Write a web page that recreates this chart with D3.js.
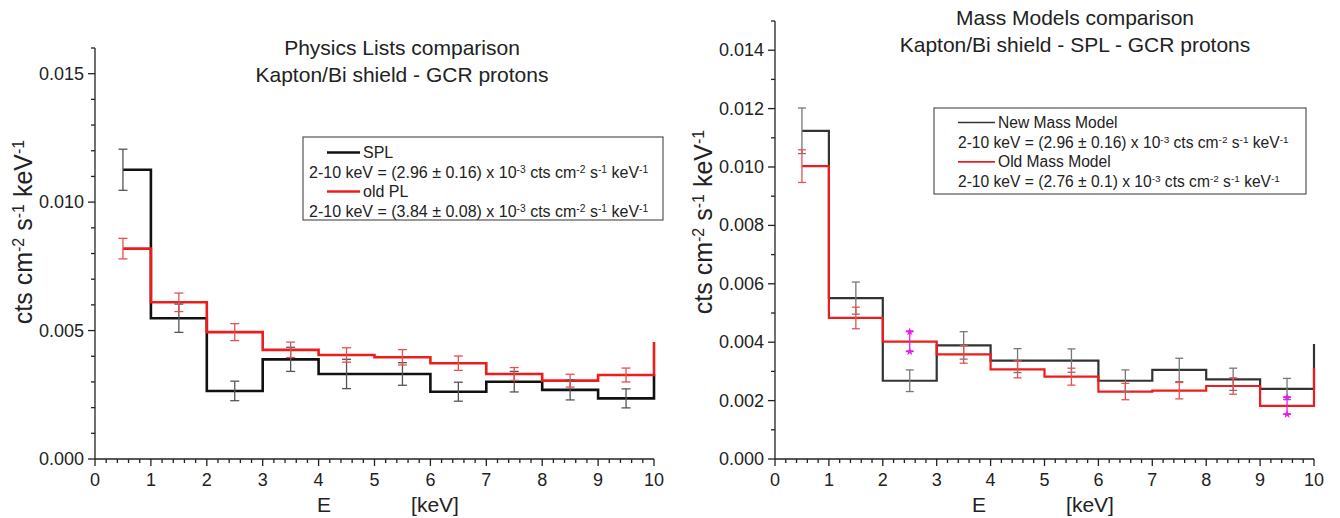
<!DOCTYPE html>
<html>
<head>
<meta charset="utf-8">
<script src="https://cdn.jsdelivr.net/npm/d3@7"></script>
<style>
  body { margin: 0; background: #fff; }
  svg { font-family: "Liberation Sans", Arial, sans-serif; }
</style>
</head>
<body>
<svg id="chart" width="1340" height="518"></svg>
<script>
// Energy bins (keV): centres and edges
const binCenters = [0.5, 1.5, 2.5, 3.5, 4.5, 5.5, 6.5, 7.5, 8.5, 9.5];
const binEdges = [0, 1, 2, 3, 4, 5, 6, 7, 8, 9, 10];
const xTicks = [0, 1, 2, 3, 4, 5, 6, 7, 8, 9, 10];

// Physics lists: SPL vs old PL (cts cm^-2 s^-1 keV^-1)
const splValues   = [0.01126, 0.00548, 0.00265, 0.00388, 0.00331, 0.00331, 0.00262, 0.00301, 0.00269, 0.00236];
const splErrors   = [0.00080, 0.00055, 0.00038, 0.00047, 0.00057, 0.00044, 0.00037, 0.00040, 0.00039, 0.00037];
const splEnd      = 0.00330;
const oldPlValues = [0.00819, 0.00610, 0.00494, 0.00425, 0.00405, 0.00396, 0.00373, 0.00331, 0.00305, 0.00327];
const oldPlErrors = [0.00040, 0.00036, 0.00033, 0.00030, 0.00028, 0.00030, 0.00028, 0.00025, 0.00025, 0.00027];
const oldPlEnd    = 0.00455;
const leftYTicks  = [0, 0.005, 0.010, 0.015];

// Mass models: new vs old (cts cm^-2 s^-1 keV^-1)
const newMmValues = [0.01124, 0.00551, 0.00268, 0.00389, 0.00337, 0.00337, 0.00268, 0.00305, 0.00273, 0.00240];
const newMmErrors = [0.00078, 0.00055, 0.00037, 0.00047, 0.00041, 0.00040, 0.00037, 0.00040, 0.00038, 0.00036];
const newMmEnd    = 0.00394;
const oldMmValues = [0.01003, 0.00483, 0.00402, 0.00358, 0.00307, 0.00282, 0.00231, 0.00234, 0.00250, 0.00182];
const oldMmErrors = [0.00056, 0.00037, 0.00034, 0.00030, 0.00029, 0.00029, 0.00028, 0.00028, 0.00028, 0.00029];
const oldMmEnd    = 0.00311;
const flaggedBins = [2.5, 9.5];
const rightYTicks = [0, 0.002, 0.004, 0.006, 0.008, 0.010, 0.012, 0.014];

const RED = "#ee1c1c";
const svg = d3.select("#chart");

function sup(t, s) {
  t.append("tspan").attr("baseline-shift", "super").attr("font-size", "64%").text(s);
}

// Formula line: "2-10 keV = (a ± b) x 10^-3 cts cm^-2 s^-1 keV^-1"
function fluxText(t, a, b) {
  t.append("tspan").text(`2-10 keV = (${a} ± ${b}) x 10`);
  sup(t, "-3");
  t.append("tspan").text(" cts cm");
  sup(t, "-2");
  t.append("tspan").text(" s");
  sup(t, "-1");
  t.append("tspan").text(" keV");
  sup(t, "-1");
}

function drawPanel(p) {
  const x = d3.scaleLinear().domain([0, 10]).range([p.left, p.right]);
  const y = d3.scaleLinear().domain([0, p.yMax]).range([p.bottom, p.top]);
  const g = svg.append("g");

  // step outline from bin values
  function stepPoints(values, endValue) {
    const pts = [[binCenters[0], values[0]]];
    values.forEach((v, i) => {
      pts.push([binEdges[i + 1], v]);
      if (i < values.length - 1) pts.push([binEdges[i + 1], values[i + 1]]);
    });
    pts.push([binEdges[binEdges.length - 1], endValue]);
    return pts;
  }
  const line = d3.line().x(d => x(d[0])).y(d => y(d[1]));

  function errorBars(values, errors, color, flagged) {
    const eg = g.append("g");
    values.forEach((v, i) => {
      const cx = x(binCenters[i]);
      const isFlag = flagged && flagged.includes(binCenters[i]);
      const col = isFlag ? "#e61ee6" : color;
      const y1 = y(v + errors[i]), y2 = y(v - errors[i]);
      eg.append("line").attr("x1", cx).attr("x2", cx).attr("y1", y1).attr("y2", y2)
        .attr("stroke", col).attr("stroke-width", 1.3);
      [y1, y2].forEach(yy => {
        eg.append("line").attr("x1", cx - p.cap).attr("x2", cx + p.cap).attr("y1", yy).attr("y2", yy)
          .attr("stroke", col).attr("stroke-width", 1.3);
        if (isFlag) {
          eg.append("path").attr("transform", `translate(${cx},${yy})`)
            .attr("d", d3.symbol().type(d3.symbolStar).size(22)())
            .attr("fill", col);
        }
      });
    });
  }

  p.series.forEach(s => {
    g.append("path").datum(stepPoints(s.values, s.end)).attr("d", line)
      .attr("fill", "none").attr("stroke", s.color).attr("stroke-width", s.width)
      .attr("stroke-linejoin", "miter");
  });
  p.series.forEach(s => errorBars(s.values, s.errors, s.errColor, s.flagged));

  // axes
  const ax = g.append("g").attr("stroke", "#222").attr("stroke-width", 1.3);
  ax.append("line").attr("x1", p.left).attr("x2", p.left).attr("y1", p.bottom).attr("y2", y(p.yMax));
  ax.append("line").attr("x1", p.left).attr("x2", p.right).attr("y1", p.bottom).attr("y2", p.bottom);

  const xMinor = d3.range(0, 10.0001, 0.2);
  xMinor.forEach(v => {
    const major = Math.abs(v - Math.round(v)) < 1e-6;
    ax.append("line").attr("x1", x(v)).attr("x2", x(v)).attr("y1", p.bottom)
      .attr("y2", p.bottom + (major ? 7 : 4));
  });
  const yMinor = d3.range(0, p.yMax + 1e-9, p.yMinorStep);
  yMinor.forEach(v => {
    const major = p.yTicks.some(t => Math.abs(t - v) < 1e-9);
    ax.append("line").attr("y1", y(v)).attr("y2", y(v)).attr("x1", p.left)
      .attr("x2", p.left - (major ? 7 : 4));
  });

  g.append("g").selectAll("text").data(xTicks).join("text")
    .attr("x", d => x(d)).attr("y", p.bottom + 27).attr("text-anchor", "middle")
    .attr("font-size", 18).attr("fill", "#222").text(d => d);
  g.append("g").selectAll("text").data(p.yTicks).join("text")
    .attr("x", p.left - 11).attr("y", d => y(d) + 6).attr("text-anchor", "end")
    .attr("font-size", 18).attr("fill", "#222").text(d => d3.format(".3f")(d));

  // axis titles
  g.append("text").attr("x", p.eX).attr("y", 512).attr("text-anchor", "middle")
    .attr("font-size", 21).attr("fill", "#222").text("E");
  g.append("text").attr("x", p.eX + 111).attr("y", 512).attr("text-anchor", "middle")
    .attr("font-size", 21).attr("fill", "#222").text("[keV]");
  const yt = g.append("text").attr("transform", `translate(${p.yTitleX},${p.yTitleY}) rotate(-90)`)
    .attr("text-anchor", "middle").attr("font-size", 25).attr("fill", "#222");
  yt.append("tspan").text("cts cm");
  sup(yt, "-2");
  yt.append("tspan").text(" s");
  sup(yt, "-1");
  yt.append("tspan").text(" keV");
  sup(yt, "-1");

  // title
  p.title.forEach((t, i) => {
    g.append("text").attr("x", p.titleX).attr("y", p.titleY + i * 27)
      .attr("text-anchor", "middle").attr("font-size", 21).attr("fill", "#222").text(t);
  });

  // legend
  const L = p.legend;
  g.append("rect").attr("x", L.x).attr("y", L.y).attr("width", L.w).attr("height", L.h)
    .attr("fill", "#fff").attr("stroke", "#555").attr("stroke-width", 1.2);
  p.series.forEach((s, i) => {
    const by = L.y + L.row0 + i * 2 * L.rowH;
    g.append("line").attr("x1", L.sx0).attr("x2", L.sx1).attr("y1", by - 5.5).attr("y2", by - 5.5)
      .attr("stroke", s.color).attr("stroke-width", s.legendWidth);
    g.append("text").attr("x", L.sx1 + 3).attr("y", by).attr("font-size", L.fs).attr("fill", "#222").text(s.name);
    const ft = g.append("text").attr("x", L.tx).attr("y", by + L.rowH).attr("font-size", L.fs).attr("fill", "#222");
    fluxText(ft, s.flux[0], s.flux[1]);
  });
}

drawPanel({
  left: 95, right: 654, top: 48, bottom: 459, yMax: 0.016, yMinorStep: 0.001, yTicks: leftYTicks,
  cap: 4.5, eX: 324, yTitleX: 32, yTitleY: 232,
  title: ["Physics Lists comparison", "Kapton/Bi shield - GCR protons"], titleX: 402, titleY: 55,
  legend: { x: 303, y: 137, w: 360, h: 83, row0: 21, rowH: 19.5, sx0: 327, sx1: 360, tx: 309, fs: 16 },
  series: [
    { name: "SPL", values: splValues, errors: splErrors, end: splEnd, color: "#111", width: 2.6,
      legendWidth: 2.4, errColor: "#555", flux: ["2.96", "0.16"] },
    { name: "old PL", values: oldPlValues, errors: oldPlErrors, end: oldPlEnd, color: RED, width: 2.6,
      legendWidth: 2.4, errColor: "#e65050", flux: ["3.84", "0.08"] }
  ]
});

drawPanel({
  left: 775, right: 1314, top: 21, bottom: 459, yMax: 0.015, yMinorStep: 0.001, yTicks: rightYTicks,
  cap: 4, eX: 979, yTitleX: 712, yTitleY: 222,
  title: ["Mass Models comparison", "Kapton/Bi shield - SPL - GCR protons"], titleX: 1075, titleY: 25,
  legend: { x: 934, y: 108, w: 372, h: 86, row0: 20, rowH: 19.7, sx0: 958, sx1: 995, tx: 958, fs: 15.6 },
  series: [
    { name: "New Mass Model", values: newMmValues, errors: newMmErrors, end: newMmEnd, color: "#333", width: 2.2,
      legendWidth: 1.6, errColor: "#777", flux: ["2.96", "0.16"] },
    { name: "Old Mass Model", values: oldMmValues, errors: oldMmErrors, end: oldMmEnd, color: RED, width: 2.2,
      legendWidth: 1.6, errColor: "#e65050", flux: ["2.76", "0.1"], flagged: flaggedBins }
  ]
});
</script>
</body>
</html>
